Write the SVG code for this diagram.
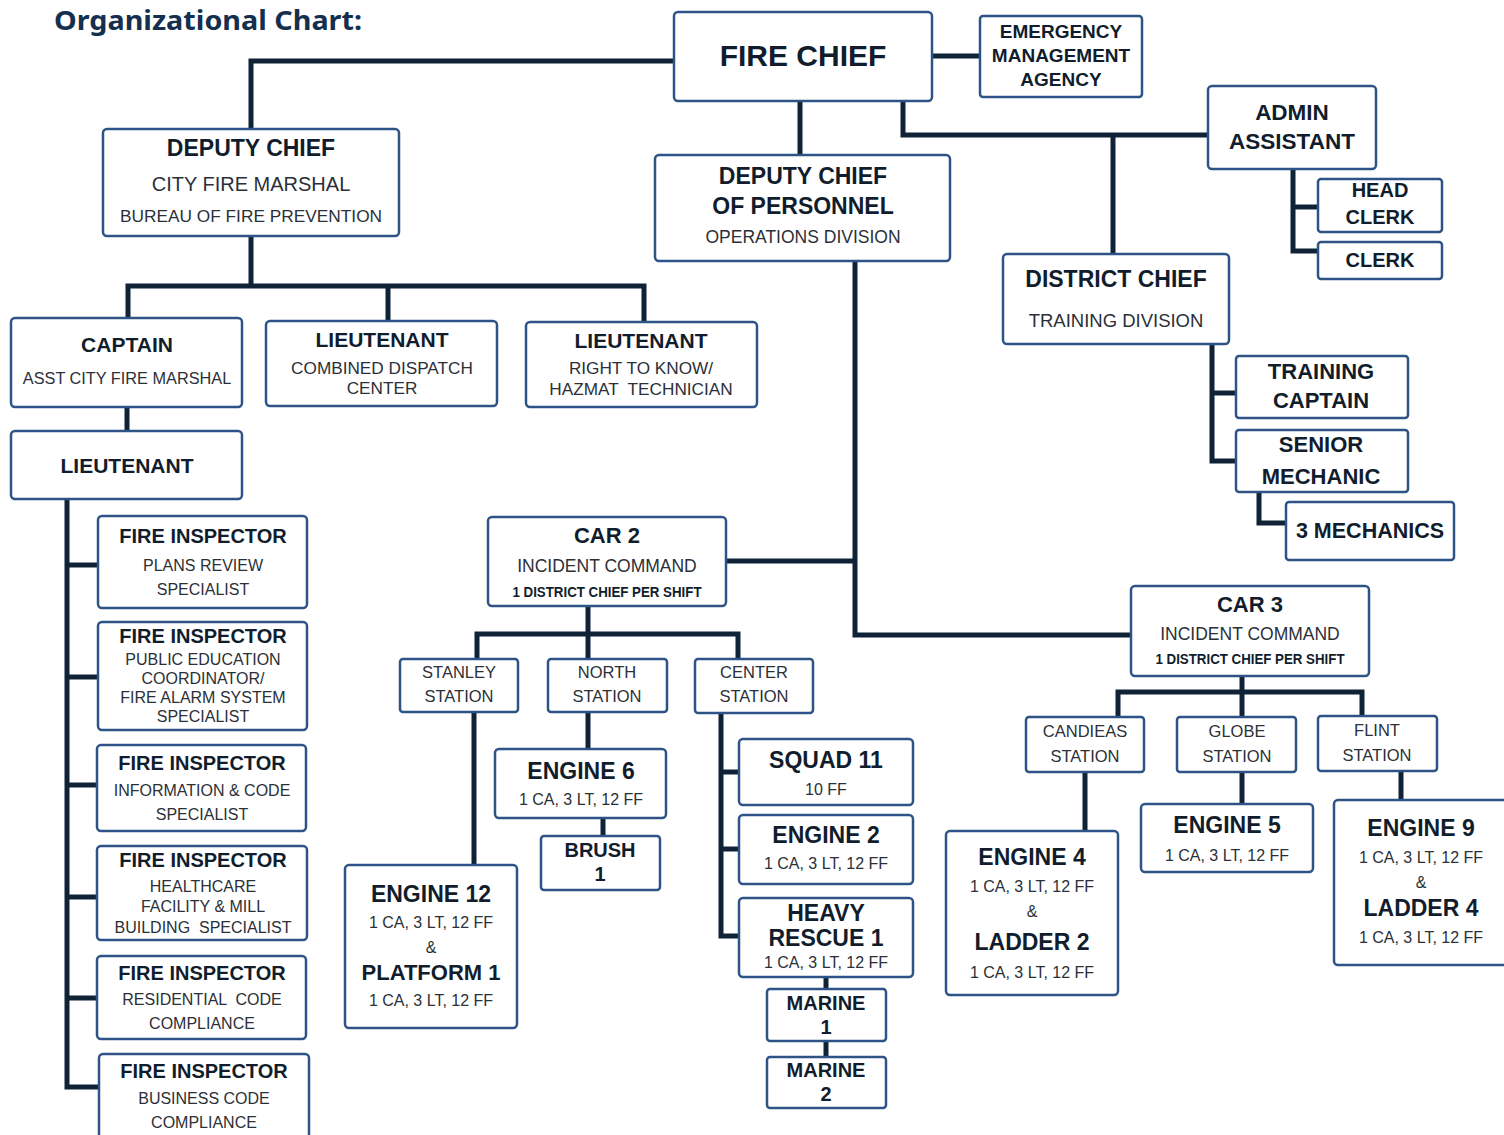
<svg xmlns="http://www.w3.org/2000/svg" width="1504" height="1135" viewBox="0 0 1504 1135">
  <style>
    .box { fill: #ffffff; stroke: #2e5386; stroke-width: 2.5; }
    .ln { fill: none; stroke: #0f2236; stroke-width: 5; stroke-linejoin: miter; stroke-linecap: butt; }
    text { font-family: "Liberation Sans", Arial, sans-serif; text-anchor: middle; }
    .b { font-weight: bold; fill: #111d2c; }
    .r { fill: #2b3038; }
    .title { font-family: "Noto Sans", "Open Sans", sans-serif; font-weight: bold; fill: #15304f; text-anchor: start; }
  </style>
  <rect width="1504" height="1135" fill="#ffffff"/>

  <text class="title" x="54" y="30" font-size="27" textLength="308" lengthAdjust="spacingAndGlyphs">Organizational Chart:</text>

  <!-- connectors -->
  <g id="connectors">
    <path class="ln" d="M674,61 H251 V129"/>
    <path class="ln" d="M932,56 H980"/>
    <path class="ln" d="M800,101 V155"/>
    <path class="ln" d="M903,101 V135 H1208"/>
    <path class="ln" d="M1113,135 V254"/>
    <path class="ln" d="M1293,169 V251 H1318"/>
    <path class="ln" d="M1293,207 H1318"/>
    <path class="ln" d="M1212,344 V461 H1236"/>
    <path class="ln" d="M1212,393 H1236"/>
    <path class="ln" d="M1259,492 V523 H1286"/>
    <path class="ln" d="M251,236 V286"/>
    <path class="ln" d="M128,318 V286 H644 V322"/>
    <path class="ln" d="M388,286 V321"/>
    <path class="ln" d="M127,407 V431"/>
    <path class="ln" d="M67,499 V1087 H99"/>
    <path class="ln" d="M67,565 H98"/>
    <path class="ln" d="M67,677 H98"/>
    <path class="ln" d="M67,785 H97"/>
    <path class="ln" d="M67,897 H97"/>
    <path class="ln" d="M67,998 H97"/>
    <path class="ln" d="M855,261 V635 H1131"/>
    <path class="ln" d="M726,561 H855"/>
    <path class="ln" d="M588,606 V659"/>
    <path class="ln" d="M477,659 V634 H738 V659"/>
    <path class="ln" d="M474,712 V865"/>
    <path class="ln" d="M588,712 V749"/>
    <path class="ln" d="M603,818 V836"/>
    <path class="ln" d="M721,713 V936 H739"/>
    <path class="ln" d="M721,772 H739"/>
    <path class="ln" d="M721,849 H739"/>
    <path class="ln" d="M826,977 V989"/>
    <path class="ln" d="M826,1041 V1057"/>
    <path class="ln" d="M1242,676 V717"/>
    <path class="ln" d="M1118,717 V692 H1362 V716"/>
    <path class="ln" d="M1085,772 V831"/>
    <path class="ln" d="M1242,772 V804"/>
    <path class="ln" d="M1401,771 V800"/>
  </g>

  <!-- top level -->
  <g id="fire-chief">
    <rect class="box" x="674" y="12" width="258" height="89" rx="4"/>
    <text class="b" x="803" y="66" font-size="30">FIRE CHIEF</text>
  </g>
  <g id="ema">
    <rect class="box" x="980" y="16" width="162" height="81" rx="3"/>
    <text class="b" x="1061" y="38" font-size="19">EMERGENCY</text>
    <text class="b" x="1061" y="62" font-size="19">MANAGEMENT</text>
    <text class="b" x="1061" y="86" font-size="19">AGENCY</text>
  </g>
  <g id="admin-assistant">
    <rect class="box" x="1208" y="86" width="168" height="83" rx="4"/>
    <text class="b" x="1292" y="120" font-size="22.5">ADMIN</text>
    <text class="b" x="1292" y="149" font-size="22.5">ASSISTANT</text>
  </g>
  <g id="head-clerk">
    <rect class="box" x="1318" y="179" width="124" height="53" rx="3"/>
    <text class="b" x="1380" y="197" font-size="20">HEAD</text>
    <text class="b" x="1380" y="224" font-size="20">CLERK</text>
  </g>
  <g id="clerk">
    <rect class="box" x="1318" y="242" width="124" height="37" rx="3"/>
    <text class="b" x="1380" y="267" font-size="20">CLERK</text>
  </g>

  <!-- fire prevention -->
  <g id="deputy-chief-prevention">
    <rect class="box" x="103" y="129" width="296" height="107" rx="4"/>
    <text class="b" x="251" y="156" font-size="23">DEPUTY CHIEF</text>
    <text class="r" x="251" y="191" font-size="20">CITY FIRE MARSHAL</text>
    <text class="r" x="251" y="222" font-size="17.3">BUREAU OF FIRE PREVENTION</text>
  </g>
  <g id="captain">
    <rect class="box" x="11" y="318" width="231" height="89" rx="4"/>
    <text class="b" x="127" y="352" font-size="21">CAPTAIN</text>
    <text class="r" x="127" y="384" font-size="16.3">ASST CITY FIRE MARSHAL</text>
  </g>
  <g id="lieutenant-dispatch">
    <rect class="box" x="266" y="321" width="231" height="85" rx="4"/>
    <text class="b" x="382" y="347" font-size="21">LIEUTENANT</text>
    <text class="r" x="382" y="374" font-size="17.2">COMBINED DISPATCH</text>
    <text class="r" x="382" y="394" font-size="17.2">CENTER</text>
  </g>
  <g id="lieutenant-hazmat">
    <rect class="box" x="526" y="322" width="231" height="85" rx="4"/>
    <text class="b" x="641" y="348" font-size="21">LIEUTENANT</text>
    <text class="r" x="641" y="374" font-size="17.2">RIGHT TO KNOW/</text>
    <text class="r" x="641" y="395" font-size="17.2" xml:space="preserve">HAZMAT  TECHNICIAN</text>
  </g>
  <g id="lieutenant-prevention">
    <rect class="box" x="11" y="431" width="231" height="68" rx="4"/>
    <text class="b" x="127" y="473" font-size="21">LIEUTENANT</text>
  </g>
  <g id="inspector-plans">
    <rect class="box" x="98" y="516" width="209" height="92" rx="4"/>
    <text class="b" x="203" y="543" font-size="20">FIRE INSPECTOR</text>
    <text class="r" x="203" y="571" font-size="16">PLANS REVIEW</text>
    <text class="r" x="203" y="595" font-size="16">SPECIALIST</text>
  </g>
  <g id="inspector-education">
    <rect class="box" x="98" y="622" width="209" height="108" rx="4"/>
    <text class="b" x="203" y="643" font-size="20">FIRE INSPECTOR</text>
    <text class="r" x="203" y="665" font-size="16">PUBLIC EDUCATION</text>
    <text class="r" x="203" y="684" font-size="16">COORDINATOR/</text>
    <text class="r" x="203" y="703" font-size="16">FIRE ALARM SYSTEM</text>
    <text class="r" x="203" y="722" font-size="16">SPECIALIST</text>
  </g>
  <g id="inspector-information">
    <rect class="box" x="97" y="745" width="209" height="86" rx="4"/>
    <text class="b" x="202" y="770" font-size="20">FIRE INSPECTOR</text>
    <text class="r" x="202" y="796" font-size="16">INFORMATION &amp; CODE</text>
    <text class="r" x="202" y="820" font-size="16">SPECIALIST</text>
  </g>
  <g id="inspector-healthcare">
    <rect class="box" x="97" y="846" width="210" height="94" rx="4"/>
    <text class="b" x="203" y="867" font-size="20">FIRE INSPECTOR</text>
    <text class="r" x="203" y="892" font-size="16">HEALTHCARE</text>
    <text class="r" x="203" y="912" font-size="16">FACILITY &amp; MILL</text>
    <text class="r" x="203" y="933" font-size="16" xml:space="preserve">BUILDING  SPECIALIST</text>
  </g>
  <g id="inspector-residential">
    <rect class="box" x="97" y="956" width="209" height="83" rx="4"/>
    <text class="b" x="202" y="980" font-size="20">FIRE INSPECTOR</text>
    <text class="r" x="202" y="1005" font-size="16" xml:space="preserve">RESIDENTIAL  CODE</text>
    <text class="r" x="202" y="1029" font-size="16">COMPLIANCE</text>
  </g>
  <g id="inspector-business">
    <rect class="box" x="99" y="1054" width="210" height="90" rx="4"/>
    <text class="b" x="204" y="1078" font-size="20">FIRE INSPECTOR</text>
    <text class="r" x="204" y="1104" font-size="16">BUSINESS CODE</text>
    <text class="r" x="204" y="1128" font-size="16">COMPLIANCE</text>
  </g>

  <!-- operations -->
  <g id="deputy-chief-personnel">
    <rect class="box" x="655" y="155" width="295" height="106" rx="4"/>
    <text class="b" x="803" y="184" font-size="23">DEPUTY CHIEF</text>
    <text class="b" x="803" y="214" font-size="23">OF PERSONNEL</text>
    <text class="r" x="803" y="243" font-size="17.5">OPERATIONS DIVISION</text>
  </g>
  <g id="district-chief">
    <rect class="box" x="1003" y="254" width="226" height="90" rx="4"/>
    <text class="b" x="1116" y="287" font-size="23">DISTRICT CHIEF</text>
    <text class="r" x="1116" y="327" font-size="18.5">TRAINING DIVISION</text>
  </g>
  <g id="training-captain">
    <rect class="box" x="1236" y="356" width="172" height="62" rx="3"/>
    <text class="b" x="1321" y="379" font-size="22">TRAINING</text>
    <text class="b" x="1321" y="408" font-size="22">CAPTAIN</text>
  </g>
  <g id="senior-mechanic">
    <rect class="box" x="1236" y="430" width="172" height="62" rx="3"/>
    <text class="b" x="1321" y="452" font-size="22">SENIOR</text>
    <text class="b" x="1321" y="484" font-size="22">MECHANIC</text>
  </g>
  <g id="mechanics">
    <rect class="box" x="1286" y="502" width="168" height="58" rx="3"/>
    <text class="b" x="1370" y="538" font-size="21.5">3 MECHANICS</text>
  </g>

  <g id="car-2">
    <rect class="box" x="488" y="517" width="238" height="89" rx="4"/>
    <text class="b" x="607" y="543" font-size="22">CAR 2</text>
    <text class="r" x="607" y="572" font-size="17.5">INCIDENT COMMAND</text>
    <text class="b" x="607" y="597" font-size="14" textLength="189" lengthAdjust="spacingAndGlyphs">1 DISTRICT CHIEF PER SHIFT</text>
  </g>
  <g id="stanley-station">
    <rect class="box" x="400" y="659" width="118" height="53" rx="3"/>
    <text class="r" x="459" y="678" font-size="16.5">STANLEY</text>
    <text class="r" x="459" y="702" font-size="16.5">STATION</text>
  </g>
  <g id="north-station">
    <rect class="box" x="548" y="659" width="119" height="53" rx="3"/>
    <text class="r" x="607" y="678" font-size="16.5">NORTH</text>
    <text class="r" x="607" y="702" font-size="16.5">STATION</text>
  </g>
  <g id="center-station">
    <rect class="box" x="695" y="659" width="118" height="54" rx="3"/>
    <text class="r" x="754" y="678" font-size="16.5">CENTER</text>
    <text class="r" x="754" y="702" font-size="16.5">STATION</text>
  </g>
  <g id="engine-6">
    <rect class="box" x="495" y="749" width="171" height="69" rx="4"/>
    <text class="b" x="581" y="779" font-size="23">ENGINE 6</text>
    <text class="r" x="581" y="805" font-size="16">1 CA, 3 LT, 12 FF</text>
  </g>
  <g id="brush-1">
    <rect class="box" x="541" y="836" width="119" height="54" rx="3"/>
    <text class="b" x="600" y="857" font-size="20">BRUSH</text>
    <text class="b" x="600" y="881" font-size="20">1</text>
  </g>
  <g id="engine-12">
    <rect class="box" x="345" y="865" width="172" height="163" rx="4"/>
    <text class="b" x="431" y="902" font-size="23">ENGINE 12</text>
    <text class="r" x="431" y="928" font-size="16">1 CA, 3 LT, 12 FF</text>
    <text class="r" x="431" y="953" font-size="16">&amp;</text>
    <text class="b" x="431" y="980" font-size="22">PLATFORM 1</text>
    <text class="r" x="431" y="1006" font-size="16">1 CA, 3 LT, 12 FF</text>
  </g>
  <g id="squad-11">
    <rect class="box" x="739" y="739" width="174" height="66" rx="4"/>
    <text class="b" x="826" y="768" font-size="23">SQUAD 11</text>
    <text class="r" x="826" y="795" font-size="16">10 FF</text>
  </g>
  <g id="engine-2">
    <rect class="box" x="739" y="815" width="174" height="69" rx="4"/>
    <text class="b" x="826" y="843" font-size="23">ENGINE 2</text>
    <text class="r" x="826" y="869" font-size="16">1 CA, 3 LT, 12 FF</text>
  </g>
  <g id="heavy-rescue-1">
    <rect class="box" x="739" y="898" width="174" height="79" rx="4"/>
    <text class="b" x="826" y="921" font-size="23">HEAVY</text>
    <text class="b" x="826" y="946" font-size="23">RESCUE 1</text>
    <text class="r" x="826" y="968" font-size="16">1 CA, 3 LT, 12 FF</text>
  </g>
  <g id="marine-1">
    <rect class="box" x="767" y="989" width="119" height="52" rx="3"/>
    <text class="b" x="826" y="1010" font-size="20">MARINE</text>
    <text class="b" x="826" y="1034" font-size="20">1</text>
  </g>
  <g id="marine-2">
    <rect class="box" x="767" y="1057" width="119" height="51" rx="3"/>
    <text class="b" x="826" y="1077" font-size="20">MARINE</text>
    <text class="b" x="826" y="1101" font-size="20">2</text>
  </g>

  <g id="car-3">
    <rect class="box" x="1131" y="586" width="238" height="90" rx="4"/>
    <text class="b" x="1250" y="612" font-size="22">CAR 3</text>
    <text class="r" x="1250" y="640" font-size="17.5">INCIDENT COMMAND</text>
    <text class="b" x="1250" y="664" font-size="14" textLength="189" lengthAdjust="spacingAndGlyphs">1 DISTRICT CHIEF PER SHIFT</text>
  </g>
  <g id="candieas-station">
    <rect class="box" x="1026" y="717" width="118" height="55" rx="3"/>
    <text class="r" x="1085" y="737" font-size="16.5">CANDIEAS</text>
    <text class="r" x="1085" y="762" font-size="16.5">STATION</text>
  </g>
  <g id="globe-station">
    <rect class="box" x="1177" y="717" width="119" height="55" rx="3"/>
    <text class="r" x="1237" y="737" font-size="16.5">GLOBE</text>
    <text class="r" x="1237" y="762" font-size="16.5">STATION</text>
  </g>
  <g id="flint-station">
    <rect class="box" x="1318" y="716" width="119" height="55" rx="3"/>
    <text class="r" x="1377" y="736" font-size="16.5">FLINT</text>
    <text class="r" x="1377" y="761" font-size="16.5">STATION</text>
  </g>
  <g id="engine-4">
    <rect class="box" x="946" y="831" width="172" height="164" rx="4"/>
    <text class="b" x="1032" y="865" font-size="23">ENGINE 4</text>
    <text class="r" x="1032" y="892" font-size="16">1 CA, 3 LT, 12 FF</text>
    <text class="r" x="1032" y="917" font-size="16">&amp;</text>
    <text class="b" x="1032" y="950" font-size="23">LADDER 2</text>
    <text class="r" x="1032" y="978" font-size="16">1 CA, 3 LT, 12 FF</text>
  </g>
  <g id="engine-5">
    <rect class="box" x="1141" y="804" width="172" height="68" rx="4"/>
    <text class="b" x="1227" y="833" font-size="23">ENGINE 5</text>
    <text class="r" x="1227" y="861" font-size="16">1 CA, 3 LT, 12 FF</text>
  </g>
  <g id="engine-9">
    <rect class="box" x="1334" y="800" width="180" height="165" rx="4"/>
    <text class="b" x="1421" y="836" font-size="23">ENGINE 9</text>
    <text class="r" x="1421" y="863" font-size="16">1 CA, 3 LT, 12 FF</text>
    <text class="r" x="1421" y="888" font-size="16">&amp;</text>
    <text class="b" x="1421" y="916" font-size="23">LADDER 4</text>
    <text class="r" x="1421" y="943" font-size="16">1 CA, 3 LT, 12 FF</text>
  </g>
</svg>
